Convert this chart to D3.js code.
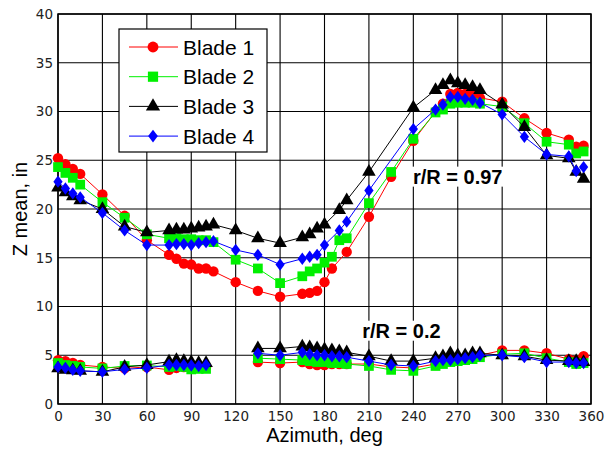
<!DOCTYPE html>
<html><head><meta charset="utf-8">
<script src="https://cdn.jsdelivr.net/npm/d3@7/dist/d3.min.js"></script>
<style>body{margin:0;background:#fff}</style>
</head><body><svg id="c" width="605" height="453"></svg>
<script>
// ---- data ----
const azimuth = [0,5,10,15,30,45,60,75,80,85,90,95,100,105,120,135,150,165,170,175,180,185,190,195,210,225,240,255,260,265,270,275,280,285,300,315,330,345,350,355];
const blades = ["Blade 1","Blade 2","Blade 3","Blade 4"];
// r/R = 0.97 (null = no sample at that azimuth)
const tip1 = [25.2,24.6,24.1,23.6,21.5,19.3,16.8,15.3,14.9,14.4,14.3,13.9,13.9,13.6,12.5,11.6,11.0,11.3,11.4,11.6,12.5,13.9,null,15.6,19.2,23.3,27.0,30.0,30.8,31.8,31.9,31.8,31.7,31.4,31.0,29.3,27.8,27.1,26.4,26.5];
const tip2 = [24.3,23.7,23.2,22.5,20.7,19.1,17.4,17.0,17.0,16.9,16.9,16.8,16.8,16.6,14.8,13.9,12.4,13.1,13.6,13.9,14.5,15.1,16.8,17.0,20.6,23.8,27.2,29.9,30.2,30.8,30.9,30.9,30.9,30.8,30.5,28.8,26.9,26.6,25.7,25.9];
const tip3 = [22.2,21.7,21.3,20.9,20.0,18.2,17.6,17.8,17.9,17.9,18.0,18.1,18.2,18.4,17.8,17.0,16.5,17.1,17.4,18.0,18.4,null,19.9,20.9,23.8,null,30.4,32.2,32.7,33.2,32.9,32.7,32.5,32.2,30.7,28.4,25.5,25.2,23.8,23.1];
const tip4 = [22.8,22.1,21.6,21.2,19.6,17.8,16.3,16.3,16.4,16.4,16.3,16.5,16.6,16.7,15.8,15.3,14.3,14.9,15.1,15.3,16.3,null,17.8,18.7,21.9,null,28.2,30.2,30.7,31.5,31.5,31.3,31.2,30.9,29.7,27.4,25.6,25.4,23.9,24.3];
// r/R = 0.2 (null = gap in the record)
const root1 = [4.5,4.4,4.2,4.0,3.8,3.65,3.8,3.5,3.7,3.8,3.8,3.8,3.8,null,null,4.3,4.2,4.3,4.1,4.0,4.0,4.1,4.1,4.1,4.1,3.8,3.7,4.1,4.2,4.4,4.5,4.6,4.8,5.0,5.5,5.5,5.2,4.6,4.5,4.9];
const root2 = [4.2,4.0,3.9,3.8,3.65,3.9,3.95,3.8,3.9,3.8,3.55,3.6,3.6,null,null,4.7,4.6,4.5,4.4,4.3,4.3,4.2,4.2,4.1,3.9,3.5,3.4,3.9,4.1,4.3,4.4,4.5,4.6,4.8,5.1,5.2,4.7,4.3,4.1,4.2];
const root3 = [3.65,3.5,3.45,3.4,3.3,3.8,4.0,4.35,4.5,4.4,4.3,4.2,4.2,null,null,5.7,5.7,5.9,5.8,5.7,5.6,5.5,5.4,5.3,4.9,4.4,4.4,4.7,4.9,5.2,5.0,5.0,5.2,5.2,5.0,4.9,4.5,4.4,4.4,4.3];
const root4 = [3.8,3.7,3.5,3.4,3.3,3.55,3.7,4.0,4.0,4.0,3.95,3.9,4.0,null,null,5.2,5.0,5.3,5.1,5.0,5.0,4.9,4.9,4.8,4.4,4.0,3.9,4.4,4.5,4.5,4.6,4.7,4.8,5.0,5.0,4.8,4.3,4.3,4.2,4.2];
const xTicks = [0,30,60,90,120,150,180,210,240,270,300,330,360];
const yTicks = [0,5,10,15,20,25,30,35,40];
const annotations = [{text:"r/R = 0.97", az:270, z:22.6},{text:"r/R = 0.2", az:232, z:6.8}];

// ---- drawing ----
const colors = ["#ff0000","#00f000","#000000","#0000ff"];
const symbols = [d3.symbolCircle, d3.symbolSquare, d3.symbolTriangle, d3.symbolDiamond];
const symSize = [85, 95, 80, 44];
const symScale = ["", "", "", " scale(1.3,1)"];
const tipSeries = [tip1,tip2,tip3,tip4];
const rootSeries = [root1,root2,root3,root4];

const svg = d3.select("#c");
const x = d3.scaleLinear().domain([0,360]).range([58,591]);
const y = d3.scaleLinear().domain([0,40]).range([404,14]);

// grid
svg.append("g").selectAll("line").data(xTicks).join("line")
  .attr("x1",d=>x(d)).attr("x2",d=>x(d)).attr("y1",y(0)).attr("y2",y(40))
  .attr("stroke","#000").attr("stroke-width",1.1);
svg.append("g").selectAll("line").data(yTicks).join("line")
  .attr("x1",x(0)).attr("x2",x(360)).attr("y1",d=>y(d)).attr("y2",d=>y(d))
  .attr("stroke","#000").attr("stroke-width",1.1);
svg.append("rect").attr("x",x(0)).attr("y",y(40)).attr("width",x(360)-x(0)).attr("height",y(0)-y(40))
  .attr("fill","none").attr("stroke","#000").attr("stroke-width",1.5);

// axes labels via d3 axes (no domain/ticks)
const ax = svg.append("g").attr("transform",`translate(0,${y(0)})`)
  .call(d3.axisBottom(x).tickValues(xTicks).tickSize(0).tickPadding(7).tickFormat(d3.format("d")));
const ay = svg.append("g").attr("transform",`translate(${x(0)},0)`)
  .call(d3.axisLeft(y).tickValues(yTicks).tickSize(0).tickPadding(5).tickFormat(d3.format("d")));
[ax,ay].forEach(g=>{ g.select(".domain").remove();
  g.selectAll("text").attr("font-family","DejaVu Sans").attr("font-size",13.5).attr("fill","#222"); });

svg.append("text").attr("x",(x(0)+x(360))/2).attr("y",442).attr("text-anchor","middle")
  .attr("font-family","Liberation Sans, Arial").attr("font-size",20).text("Azimuth, deg");
svg.append("text").attr("transform",`translate(27,${(y(0)+y(40))/2}) rotate(-90)`).attr("text-anchor","middle")
  .attr("font-family","Liberation Sans, Arial").attr("font-size",20).text("Z mean, in");

// annotations with white background
const annG = svg.append("g");
annotations.forEach(a=>{
  const t = annG.append("text").attr("x",x(a.az)).attr("y",y(a.z)).attr("text-anchor","middle")
    .attr("font-family","Liberation Sans, Arial").attr("font-weight","bold").attr("font-size",20).text(a.text);
  const b = t.node().getBBox();
  annG.insert("rect",()=>t.node()).attr("x",b.x-4).attr("y",b.y+1).attr("width",b.width+8).attr("height",b.height-2).attr("fill","#fff");
});

const plot = svg.append("g");
blades.forEach((name,i)=>{
  const g = plot.append("g");
  const tip = azimuth.map((a,k)=>({a, v:tipSeries[i][k]})).filter(d=>d.v!=null);
  const root = azimuth.map((a,k)=>({a, v:rootSeries[i][k]}));
  const lineTip = d3.line().x(d=>x(d.a)).y(d=>y(d.v));
  const lineRoot = d3.line().defined(d=>d.v!=null).x(d=>x(d.a)).y(d=>y(d.v));
  g.append("path").attr("d",lineTip(tip)).attr("fill","none").attr("stroke",colors[i]).attr("stroke-width",1);
  g.append("path").attr("d",lineRoot(root)).attr("fill","none").attr("stroke",colors[i]).attr("stroke-width",1);
  const pts = tip.concat(root.filter(d=>d.v!=null));
  g.selectAll("path.m").data(pts).join("path").attr("class","m")
    .attr("transform",d=>`translate(${x(d.a)},${y(d.v)})${symScale[i]}`)
    .attr("d",d3.symbol().type(symbols[i]).size(symSize[i])).attr("fill",colors[i]);
});

// legend
const lg = svg.append("g");
lg.append("rect").attr("x",119).attr("y",29).attr("width",148).attr("height",123)
  .attr("fill","#fff").attr("stroke","#000").attr("stroke-width",1.2);
blades.forEach((name,i)=>{
  const yy = 47 + i*29.7;
  lg.append("line").attr("x1",129).attr("x2",178).attr("y1",yy).attr("y2",yy).attr("stroke",colors[i]).attr("stroke-width",1);
  lg.append("path").attr("transform",`translate(153,${yy})${symScale[i]}`)
    .attr("d",d3.symbol().type(symbols[i]).size(symSize[i]*1.1)).attr("fill",colors[i]);
  lg.append("text").attr("x",183).attr("y",yy+7.5).attr("font-family","Liberation Sans, Arial").attr("font-size",21).text(name);
});
</script></body></html>
